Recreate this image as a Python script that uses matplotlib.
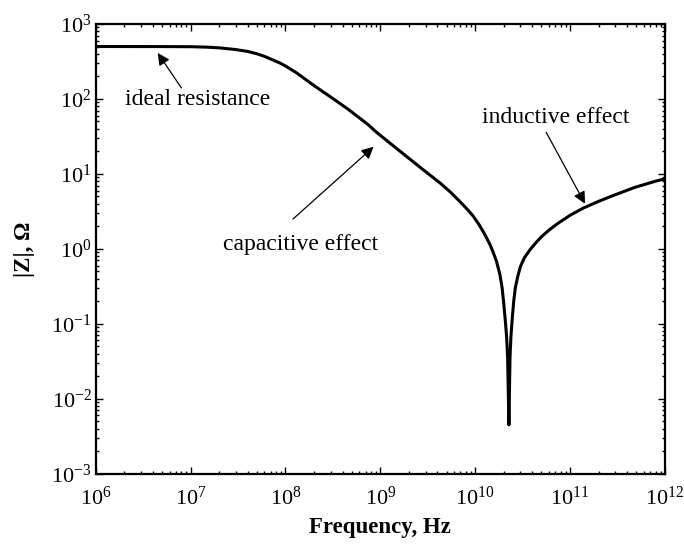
import matplotlib
matplotlib.use('Agg')
import matplotlib.pyplot as plt

plt.rcParams['font.family'] = ['Liberation Serif', 'DejaVu Serif']
plt.rcParams['mathtext.fontset'] = 'stix'

# Impedance magnitude
freq_hz = [1e6, 5e6, 1e7, 1.5e7, 2e7, 3e7, 4e7, 5e7, 6e7, 7e7, 8.7e7, 1e8,
           1.3e8, 1.6e8, 1.95e8, 2.5e8, 3e8, 3.7e8, 4.5e8, 6e8, 7.5e8, 9.1e8,
           1.3e9, 1.9e9, 2.8e9, 4.3e9, 5.5e9, 7e9, 8.3e9, 9.5e9, 1.1e10,
           1.25e10, 1.43e10, 1.55e10, 1.68e10, 1.82e10, 1.92e10, 2.0e10,
           2.08e10, 2.15e10, 2.2e10, 2.27e10, 2.33e10, 2.38e10, 2.45e10,
           2.55e10, 2.65e10, 2.8e10, 3.0e10, 3.3e10, 3.8e10, 4.4e10, 5e10,
           6e10, 7.5e10, 1e11, 1.38e11, 2e11, 2.8e11, 3.6e11, 4.8e11, 6.5e11,
           8e11, 1e12]
z_ohm = [500, 499, 497, 490, 480, 455, 430, 400, 370, 340, 302, 275,
         224, 185, 154, 124, 106, 88, 74, 56, 45, 36,
         25, 17, 11.5, 7.5, 5.7, 4.2, 3.35, 2.75, 2.1,
         1.6, 1.15, 0.9, 0.68, 0.46, 0.31, 0.19,
         0.11, 0.065, 0.035, 0.0045, 0.035, 0.065, 0.11,
         0.2, 0.3, 0.42, 0.58, 0.76, 0.98, 1.22, 1.45,
         1.78, 2.2, 2.8, 3.5, 4.3, 5.1, 5.75, 6.6, 7.4,
         8.0, 8.6]

notes = ['ideal resistance', 'capacitive effect', 'inductive effect']
note_xy = [(1.19e7, 97), (1.45e8, 1.13), (7.1e10, 57)]
arrow_tail = [(8.0e6, 140), (1.2e8, 2.5), (5.6e10, 36)]
arrow_tip = [(4.5e6, 410), (8.5e8, 23), (1.44e11, 4.0)]

fig = plt.figure(figsize=(6.84, 5.44), dpi=100)
ax = fig.add_axes([0.140, 0.129, 0.832, 0.827])

ax.loglog(freq_hz, z_ohm, color='black', lw=2.2, solid_joinstyle='round')
ax.set_xlim(1e6, 1e12)
ax.set_ylim(1e-3, 1e3)

for txt, xy in zip(notes, note_xy):
    ax.text(xy[0], xy[1], txt, ha='center', va='center', fontsize=17)
for tail, tip in zip(arrow_tail, arrow_tip):
    ax.annotate('', xy=tip, xytext=tail,
                arrowprops=dict(arrowstyle='-|>', color='black', lw=0.9,
                                mutation_scale=18, shrinkA=0, shrinkB=0))

ax.tick_params(which='both', direction='in', top=True, right=True,
               labelsize=16, width=1.0)
ax.tick_params(axis='x', which='major', pad=9)
ax.tick_params(axis='y', which='major', pad=3)
ax.tick_params(which='major', length=5)
ax.tick_params(which='minor', length=2.5)
for s in ax.spines.values():
    s.set_linewidth(1.6)

ax.set_xlabel('Frequency, Hz', fontsize=16.5, fontweight='bold')
ax.set_ylabel('|Z|, Ω', fontsize=16.5, fontweight='bold')
ax.xaxis.set_label_coords(0.5, -0.097)
ax.yaxis.set_label_coords(-0.107, 0.5)

fig.savefig('out.png', dpi=100)
